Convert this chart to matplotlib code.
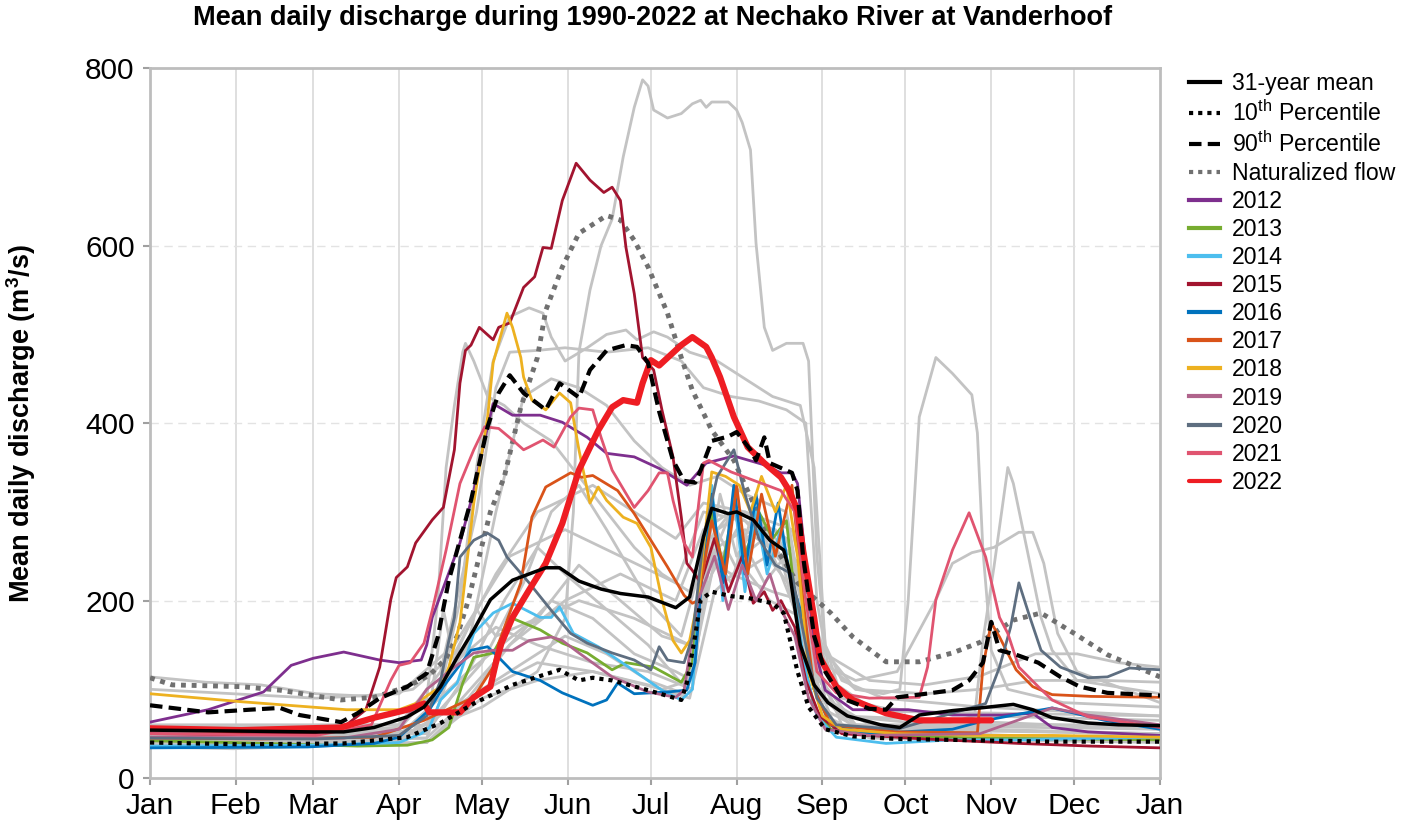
"""
Mean daily discharge chart, Nechako River at Vanderhoof
"""

import matplotlib
matplotlib.use("Agg")
import matplotlib.pyplot as plt

plt.rcParams['font.family'] = ['Liberation Sans', 'DejaVu Sans']
plt.rcParams['mathtext.default'] = 'regular'

# day of year, discharge (m3/s)
mean_pts = [(0, 54), (30, 53), (59, 52), (70, 52), (81, 57), (93, 69), (99, 80), (105, 103),
            (111, 136), (117, 167), (123, 201), (131, 223), (143, 237), (148, 237), (155, 222),
            (163, 213), (170, 208), (180, 204), (190, 192), (195, 204), (200, 272), (203, 304),
            (209, 298), (212, 300), (218, 291), (224, 268), (229, 257), (231, 234), (235, 150),
            (240, 105), (245, 85), (252, 70), (264, 60), (271, 57), (278, 71), (290, 76),
            (300, 79), (312, 83), (319, 77), (326, 68), (339, 62), (350, 60), (365, 59)]
p10_pts = [(0, 40), (33, 38), (70, 39), (93, 46), (105, 62), (117, 84), (125, 96), (131, 105),
           (148, 122), (155, 110), (160, 113), (167, 110), (180, 99), (192, 88), (194, 107),
           (197, 160), (199, 201), (203, 210), (210, 205), (216, 203), (225, 197), (229, 186),
           (234, 120), (238, 80), (244, 55), (254, 47), (270, 44), (290, 43), (326, 41), (365, 41)]
p90_pts = [(0, 82), (21, 74), (36, 77), (47, 79), (54, 71), (69, 63), (75, 73), (83, 90),
           (93, 103), (100, 118), (104, 159), (108, 223), (116, 313), (122, 396), (126, 434),
           (130, 454), (135, 434), (143, 415), (148, 445), (155, 429), (159, 460), (165, 482),
           (172, 488), (176, 486), (180, 468), (184, 413), (189, 358), (193, 335), (197, 333),
           (199, 347), (203, 380), (209, 385), (212, 390), (217, 370), (219, 358), (222, 384),
           (224, 355), (232, 344), (234, 324), (236, 250), (240, 160), (244, 120), (250, 90),
           (260, 78), (266, 77), (270, 91), (278, 94), (290, 99), (296, 110), (301, 130),
           (304, 176), (307, 144), (313, 139), (321, 130), (329, 114), (336, 103), (346, 96),
           (365, 93)]
natural_pts = [(0, 113), (8, 105), (33, 103), (47, 99), (69, 88), (81, 91), (93, 103),
               (101, 116), (107, 135), (111, 160), (115, 200), (119, 250), (123, 300),
               (128, 339), (134, 418), (140, 474), (143, 527), (149, 576), (155, 614),
               (165, 634), (170, 629), (175, 606), (180, 576), (187, 524), (192, 474),
               (196, 437), (203, 392), (211, 358), (218, 310), (225, 265), (234, 220),
               (246, 186), (254, 159), (266, 131), (278, 131), (290, 141), (300, 153),
               (312, 178), (322, 186), (334, 163), (346, 139), (365, 114)]

# selected years
y2012 = [(0, 63), (21, 77), (41, 97), (51, 127), (59, 135), (70, 142), (83, 133), (90, 130),
         (98, 133), (100, 150), (102, 181), (107, 223), (112, 265), (117, 324), (122, 396),
         (124, 422), (131, 409), (141, 409), (149, 401), (158, 384), (165, 366), (175, 362),
         (184, 349), (194, 330), (201, 355), (211, 363), (222, 353), (228, 344), (232, 344),
         (234, 332), (236, 272), (240, 150), (244, 99), (254, 77), (274, 77), (290, 71),
         (308, 71), (319, 73), (326, 57), (339, 52), (365, 48)]
y2013 = [(0, 42), (30, 40), (75, 36), (93, 37), (102, 43), (108, 57), (113, 107), (117, 136),
         (124, 141), (131, 180), (141, 167), (149, 152), (158, 141), (167, 122), (172, 130),
         (182, 125), (192, 108), (196, 130), (199, 230), (203, 300), (207, 240), (211, 310),
         (215, 250), (220, 300), (225, 270), (230, 290), (235, 150), (240, 80), (246, 55),
         (260, 48), (300, 45), (365, 43)]
y2014 = [(0, 36), (60, 37), (90, 40), (98, 50), (101, 57), (105, 88), (111, 107), (117, 163),
         (124, 186), (131, 197), (141, 181), (145, 181), (148, 193), (153, 163), (162, 148),
         (173, 125), (185, 99), (192, 88), (196, 100), (199, 220), (203, 330), (207, 200),
         (211, 320), (215, 210), (219, 300), (223, 230), (228, 280), (233, 200), (237, 120),
         (241, 70), (248, 46), (266, 39), (290, 43), (314, 43), (365, 46)]
y2015 = [(0, 50), (30, 49), (60, 50), (71, 60), (78, 77), (83, 125), (87, 201), (89, 226),
         (93, 238), (96, 265), (102, 291), (106, 305), (110, 370), (112, 445), (114, 482),
         (116, 488), (119, 508), (124, 494), (126, 508), (130, 513), (135, 553), (139, 565),
         (142, 598), (145, 597), (149, 651), (154, 693), (159, 674), (164, 660), (167, 666),
         (170, 651), (172, 598), (175, 546), (178, 474), (182, 460), (185, 415), (189, 362),
         (192, 294), (194, 242), (196, 234), (199, 220), (204, 270), (209, 210), (214, 250),
         (218, 197), (222, 210), (225, 189), (228, 200), (233, 170), (237, 110), (242, 70),
         (250, 50), (280, 44), (314, 39), (340, 36), (365, 34)]
y2016 = [(0, 34), (57, 35), (81, 39), (90, 46), (101, 77), (106, 103), (116, 144), (122, 148),
         (126, 136), (131, 120), (141, 110), (149, 96), (160, 82), (165, 88), (169, 107),
         (175, 95), (187, 97), (194, 99), (197, 130), (200, 250), (203, 320), (207, 220),
         (211, 330), (215, 230), (219, 320), (223, 240), (227, 310), (231, 230), (236, 180),
         (240, 100), (246, 60), (260, 50), (290, 55), (302, 65), (326, 79), (345, 65), (365, 55)]
y2017 = [(0, 45), (40, 44), (81, 46), (99, 65), (117, 91), (124, 125), (126, 152), (134, 220),
         (138, 294), (143, 328), (152, 344), (156, 339), (160, 341), (169, 324), (175, 298),
         (181, 268), (187, 238), (193, 206), (196, 197), (198, 200), (203, 290), (208, 230),
         (212, 330), (216, 230), (221, 320), (226, 250), (232, 330), (236, 200), (240, 100),
         (246, 60), (270, 52), (299, 51), (301, 125), (304, 175), (307, 159), (313, 122),
         (319, 103), (326, 94), (340, 92), (365, 91)]
y2018 = [(0, 95), (33, 86), (71, 77), (90, 77), (96, 84), (105, 103), (108, 125), (112, 175),
         (113, 201), (117, 310), (122, 407), (124, 468), (129, 524), (131, 508), (134, 474),
         (135, 452), (138, 426), (143, 415), (148, 434), (152, 423), (155, 370), (159, 310),
         (162, 328), (165, 313), (171, 294), (176, 287), (181, 260), (185, 201), (189, 155),
         (192, 141), (195, 155), (198, 201), (203, 345), (208, 340), (213, 330), (217, 300),
         (221, 340), (226, 300), (230, 330), (234, 250), (238, 120), (243, 70), (250, 55),
         (270, 50), (300, 48), (326, 48), (365, 46)]
y2019 = [(0, 46), (70, 45), (90, 55), (100, 100), (110, 125), (117, 141), (124, 144),
         (131, 144), (137, 155), (145, 159), (149, 155), (155, 141), (167, 114), (180, 97),
         (190, 91), (193, 99), (198, 200), (204, 250), (209, 190), (214, 240), (219, 200),
         (224, 230), (228, 190), (233, 160), (238, 90), (244, 55), (260, 48), (300, 50),
         (326, 79), (339, 71), (365, 60)]
y2020 = [(0, 45), (60, 44), (90, 48), (100, 70), (105, 110), (108, 155), (110, 181), (112, 249),
         (117, 268), (122, 276), (126, 268), (129, 249), (137, 220), (145, 189), (152, 163),
         (158, 152), (167, 141), (175, 133), (181, 122), (184, 148), (187, 133), (193, 130),
         (196, 159), (200, 270), (205, 340), (211, 370), (215, 320), (220, 270), (226, 240),
         (232, 230), (237, 150), (241, 90), (248, 60), (270, 55), (302, 84), (307, 125),
         (311, 170), (314, 220), (318, 181), (322, 144), (329, 125), (339, 113), (346, 114),
         (354, 124), (365, 122)]
y2021 = [(0, 50), (60, 48), (80, 60), (87, 110), (90, 127), (94, 130), (99, 152), (102, 189),
         (107, 257), (112, 332), (117, 370), (121, 396), (126, 394), (131, 381), (135, 370),
         (137, 373), (142, 381), (146, 373), (152, 407), (155, 417), (160, 415), (163, 384),
         (167, 347), (175, 305), (180, 324), (184, 344), (187, 344), (189, 313), (193, 265),
         (196, 249), (200, 355), (202, 358), (210, 345), (216, 338), (228, 324), (233, 300),
         (237, 200), (241, 120), (248, 96), (260, 90), (278, 91), (281, 125), (284, 201),
         (290, 257), (296, 299), (302, 249), (307, 181), (310, 163), (314, 125), (321, 103),
         (326, 88), (339, 69), (365, 57)]
y2022 = [(0, 56), (33, 54), (69, 57), (81, 68), (93, 77), (99, 84), (101, 74), (112, 74),
         (117, 91), (123, 103), (125, 130), (127, 152), (131, 181), (137, 212), (143, 242),
         (149, 287), (155, 347), (162, 392), (167, 418), (171, 426), (176, 423), (178, 445),
         (181, 471), (184, 465), (192, 488), (196, 497), (201, 486), (203, 474), (206, 452),
         (211, 407), (216, 373), (222, 355), (228, 339), (231, 324), (234, 302), (236, 257),
         (240, 181), (242, 136), (248, 103), (254, 88), (266, 73), (278, 65), (290, 65),
         (304, 65)]

# other years 1990-2011 (grey)
grey_years = [
    [(0, 50), (60, 45), (100, 55), (120, 80), (140, 120), (150, 180), (153, 300), (155, 480),
     (159, 550), (163, 600), (167, 630), (171, 700), (175, 756), (178, 787), (180, 780),
     (182, 753), (187, 744), (192, 749), (196, 760), (199, 764), (201, 756), (203, 762),
     (209, 762), (212, 753), (214, 739), (217, 708), (219, 603), (222, 508), (225, 482),
     (230, 490), (236, 490), (238, 470), (241, 250), (244, 150), (250, 110), (265, 90),
     (300, 80), (365, 70)],
    [(0, 60), (90, 60), (105, 100), (112, 200), (118, 350), (124, 470), (130, 520), (137, 530),
     (142, 524), (145, 497), (150, 470), (158, 485), (165, 500), (172, 505), (176, 494),
     (182, 503), (187, 497), (195, 480), (205, 470), (215, 450), (225, 430), (235, 420),
     (240, 350), (244, 150), (250, 90), (270, 75), (365, 70)],
    [(0, 55), (90, 55), (100, 90), (104, 200), (107, 350), (110, 420), (113, 480), (114, 490),
     (117, 470), (122, 430), (128, 420), (135, 400), (145, 380), (155, 340), (165, 300),
     (175, 260), (185, 230), (195, 210), (200, 260), (210, 300), (220, 280), (232, 250),
     (240, 120), (250, 70), (300, 55), (365, 50)],
    [(0, 45), (90, 45), (110, 80), (130, 150), (150, 200), (170, 230), (190, 200), (200, 280),
     (210, 300), (220, 290), (235, 240), (244, 130), (255, 100), (265, 95), (271, 100),
     (274, 200), (278, 407), (284, 474), (290, 456), (297, 432), (299, 389), (301, 257),
     (304, 144), (310, 100), (330, 85), (365, 80)],
    [(0, 40), (90, 42), (115, 90), (140, 130), (160, 120), (185, 100), (195, 110), (205, 260),
     (215, 280), (228, 250), (240, 100), (255, 60), (280, 55), (298, 70), (301, 155),
     (305, 238), (310, 350), (312, 332), (317, 257), (322, 181), (326, 144), (335, 110),
     (365, 95)],
    [(0, 48), (90, 48), (115, 120), (135, 170), (155, 200), (175, 180), (195, 150), (205, 280),
     (215, 300), (230, 270), (242, 130), (255, 110), (270, 120), (284, 201), (290, 242),
     (297, 254), (305, 260), (314, 277), (319, 277), (323, 242), (328, 163), (335, 120),
     (365, 85)],
    [(0, 100), (30, 95), (60, 90), (90, 95), (110, 150), (130, 250), (150, 280), (170, 250),
     (190, 220), (200, 300), (215, 290), (235, 220), (244, 140), (260, 110), (280, 105),
     (300, 115), (320, 140), (335, 140), (350, 130), (365, 125)],
    [(0, 114), (20, 108), (40, 105), (60, 95), (80, 92), (95, 100), (110, 140), (125, 230),
     (140, 300), (160, 330), (175, 300), (190, 270), (200, 310), (215, 300), (232, 280),
     (242, 150), (255, 100), (280, 95), (300, 100), (320, 110), (345, 110), (365, 108)],
    [(0, 58), (90, 60), (105, 120), (118, 300), (125, 440), (130, 480), (140, 482), (150, 485),
     (165, 480), (180, 485), (192, 470), (200, 440), (210, 430), (220, 425), (230, 415),
     (237, 400), (241, 200), (246, 110), (260, 80), (300, 70), (365, 65)],
    [(0, 50), (95, 52), (115, 150), (125, 300), (135, 430), (145, 450), (155, 440), (165, 420),
     (175, 380), (185, 350), (195, 330), (205, 340), (215, 320), (230, 300), (240, 120),
     (250, 70), (365, 55)],
    [(0, 40), (100, 45), (115, 90), (130, 150), (145, 200), (160, 180), (175, 140), (190, 120),
     (196, 110), (202, 240), (210, 300), (218, 260), (226, 280), (236, 200), (242, 80),
     (260, 50), (365, 45)],
    [(0, 38), (100, 40), (120, 100), (135, 130), (150, 160), (165, 140), (180, 110), (193, 95),
     (200, 200), (206, 320), (212, 250), (220, 290), (230, 240), (238, 130), (248, 55),
     (365, 42)],
    [(0, 45), (100, 50), (115, 120), (128, 200), (140, 260), (150, 230), (165, 190), (180, 150),
     (194, 100), (202, 260), (210, 220), (218, 300), (228, 230), (238, 150), (250, 60),
     (365, 48)],
    [(0, 42), (100, 45), (112, 150), (118, 190), (125, 160), (140, 180), (155, 240), (170, 200),
     (185, 160), (195, 150), (203, 230), (212, 280), (222, 220), (232, 260), (240, 120),
     (255, 60), (365, 55)],
    [(0, 55), (60, 50), (100, 60), (120, 130), (135, 220), (145, 300), (155, 330), (165, 280),
     (180, 200), (192, 160), (200, 250), (210, 230), (225, 210), (236, 200), (244, 90),
     (260, 60), (365, 60)],
    [(0, 50), (100, 52), (106, 190), (110, 130), (125, 170), (140, 150), (160, 130), (180, 120),
     (196, 100), (203, 290), (213, 230), (223, 250), (233, 210), (240, 100), (255, 55),
     (365, 50)],
    [(0, 35), (30, 33), (100, 40), (120, 90), (140, 110), (160, 120), (180, 105), (195, 90),
     (204, 210), (214, 240), (224, 200), (236, 180), (244, 70), (260, 45), (365, 40)],
]

year_labels = ['2012', '2013', '2014', '2015', '2016', '2017', '2018', '2019', '2020', '2021']
year_series = [y2012, y2013, y2014, y2015, y2016, y2017, y2018, y2019, y2020, y2021]
year_colors = ['#7E2F8E', '#77AC30', '#4DBEEE', '#A2142F', '#0072BD', '#D95319',
               '#EDB120', '#B0648C', '#5E6E80', '#E05470']

month_days = [0, 31, 59, 90, 120, 151, 181, 212, 243, 273, 304, 334, 365]
month_names = ['Jan', 'Feb', 'Mar', 'Apr', 'May', 'Jun', 'Jul', 'Aug', 'Sep', 'Oct', 'Nov',
               'Dec', 'Jan']


def xy(pts):
    return [p[0] for p in pts], [p[1] for p in pts]


fig = plt.figure(figsize=(14.1, 8.33), dpi=100)
ax = fig.add_axes([0.1064, 0.066, 0.7163, 0.852])

for g in grey_years:
    ax.plot(*xy(g), color='#C3C3C3', lw=2, zorder=2)

nat_line, = ax.plot(*xy(natural_pts), color='#707070', lw=3.5, ls=(0, (1, 1.2)), zorder=3)

handles = []
for lab, s, c in zip(year_labels, year_series, year_colors):
    h, = ax.plot(*xy(s), color=c, lw=2, zorder=4)
    handles.append(h)
h22, = ax.plot(*xy(y2022), color='#EE1D23', lw=4.5, zorder=5, solid_capstyle='round')

p10_line, = ax.plot(*xy(p10_pts), color='black', lw=3, ls=(0, (1, 1.2)), zorder=6)
p90_line, = ax.plot(*xy(p90_pts), color='black', lw=3, ls=(0, (3, 1.5)), zorder=6)
mean_line, = ax.plot(*xy(mean_pts), color='black', lw=2.5, zorder=7)

ax.set_xlim(0, 365)
ax.set_ylim(0, 800)
ax.set_xticks(month_days)
ax.set_xticklabels(month_names)
ax.set_yticks([0, 200, 400, 600, 800])
ax.tick_params(labelsize=21.5, colors='#A0A0A0', length=5, width=1.5)
ax.tick_params(axis='y', pad=6)
ax.tick_params(axis='x', pad=5)
for lbl in ax.get_xticklabels() + ax.get_yticklabels():
    lbl.set_color('black')

# grid: solid for months, dashed for discharge
for d in month_days[1:-1]:
    ax.axvline(d, color='#DCDCDC', lw=1.3, zorder=0)
for v in [200, 400, 600]:
    ax.axhline(v, color='#E3E3E3', lw=1, ls=(0, (6, 4)), zorder=0)
for side in ['left', 'right', 'top', 'bottom']:
    ax.spines[side].set_color('#BDBDBD')
    ax.spines[side].set_linewidth(2)

ax.set_ylabel('Mean daily discharge (m$^3$/s)', fontsize=19.5, fontweight='bold')
ax.yaxis.set_label_coords(-0.111, 0.5)
fig.text(0.463, 1 - 18 / 833, 'Mean daily discharge during 1990-2022 at Nechako River at Vanderhoof',
         fontsize=19.5, fontweight='bold', ha='center', va='center')

leg_handles = [mean_line, p10_line, p90_line, nat_line] + handles + [h22]
leg_labels = ['31-year mean', '10$^{th}$ Percentile', '90$^{th}$ Percentile',
              'Naturalized flow'] + year_labels + ['2022']
leg = fig.legend(leg_handles, leg_labels, loc='upper left', bbox_to_anchor=(0.835, 0.927),
                 frameon=False, fontsize=16.6, handlelength=1.35, labelspacing=0.22,
                 handletextpad=0.5, borderpad=0)
for line in leg.get_lines():
    line.set_linewidth(3)

plt.savefig('out.png', dpi=100)
